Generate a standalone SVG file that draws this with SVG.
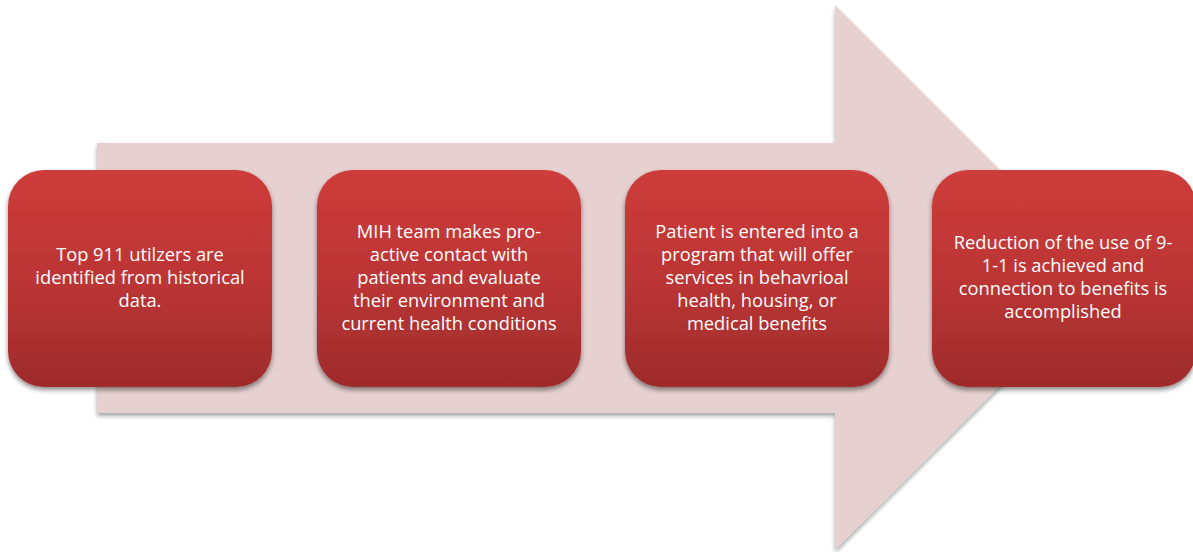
<svg xmlns="http://www.w3.org/2000/svg" width="1193" height="552" viewBox="0 0 1193 552">
<style>
.t{font-family:"Open Sans","Liberation Sans",sans-serif;font-size:18.3px;fill:#ffffff;text-anchor:middle}
.box{fill:url(#g);filter:url(#sh)}
</style>
<defs>
<linearGradient id="g" x1="0" y1="0" x2="0" y2="1">
<stop offset="0" stop-color="#CD3C3A"/>
<stop offset="0.5" stop-color="#BC3535"/>
<stop offset="1" stop-color="#9E2B2B"/>
</linearGradient>
<filter id="sh" x="-10%" y="-10%" width="120%" height="130%">
<feGaussianBlur in="SourceAlpha" stdDeviation="2.5"/>
<feOffset dx="0" dy="3" result="b"/>
<feComponentTransfer><feFuncA type="linear" slope="0.45"/></feComponentTransfer>
<feMerge><feMergeNode/><feMergeNode in="SourceGraphic"/></feMerge>
</filter>
<filter id="ash" x="-5%" y="-5%" width="110%" height="110%">
<feGaussianBlur in="SourceAlpha" stdDeviation="2"/>
<feOffset dx="0" dy="3"/>
<feComponentTransfer><feFuncA type="linear" slope="0.35"/></feComponentTransfer>
<feMerge><feMergeNode/><feMergeNode in="SourceGraphic"/></feMerge>
</filter>
</defs>
<rect width="1193" height="552" fill="#ffffff"/>
<g id="connectors">
<polygon id="arrow" points="97,143 835,143 835,5 1108,278 835,550 835,413 97,413" fill="#E6D0D0" filter="url(#ash)"/>
</g>
<g id="node1">
<rect class="box" x="8" y="170" width="264" height="217" rx="36"/>
<text class="t"><tspan x="140" y="261">Top 911 utilzers are</tspan><tspan x="140" y="284">identified from historical</tspan><tspan x="140" y="307">data.</tspan></text>
</g>
<g id="node2">
<rect class="box" x="317" y="170" width="264" height="217" rx="36"/>
<text class="t"><tspan x="449" y="238">MIH team makes pro-</tspan><tspan x="449" y="261">active contact with</tspan><tspan x="449" y="284">patients and evaluate</tspan><tspan x="449" y="307">their environment and</tspan><tspan x="449" y="330">current health conditions</tspan></text>
</g>
<g id="node3">
<rect class="box" x="625" y="170" width="264" height="217" rx="36"/>
<text class="t"><tspan x="757" y="238">Patient is entered into a</tspan><tspan x="757" y="261">program that will offer</tspan><tspan x="757" y="284">services in behavrioal</tspan><tspan x="757" y="307">health, housing, or</tspan><tspan x="757" y="330">medical benefits</tspan></text>
</g>
<g id="node4">
<rect class="box" x="932" y="170" width="264" height="217" rx="36"/>
<text class="t"><tspan x="1063" y="249">Reduction of the use of 9-</tspan><tspan x="1063" y="272">1-1 is achieved and</tspan><tspan x="1063" y="295">connection to benefits is</tspan><tspan x="1063" y="318">accomplished</tspan></text>
</g>
</svg>
